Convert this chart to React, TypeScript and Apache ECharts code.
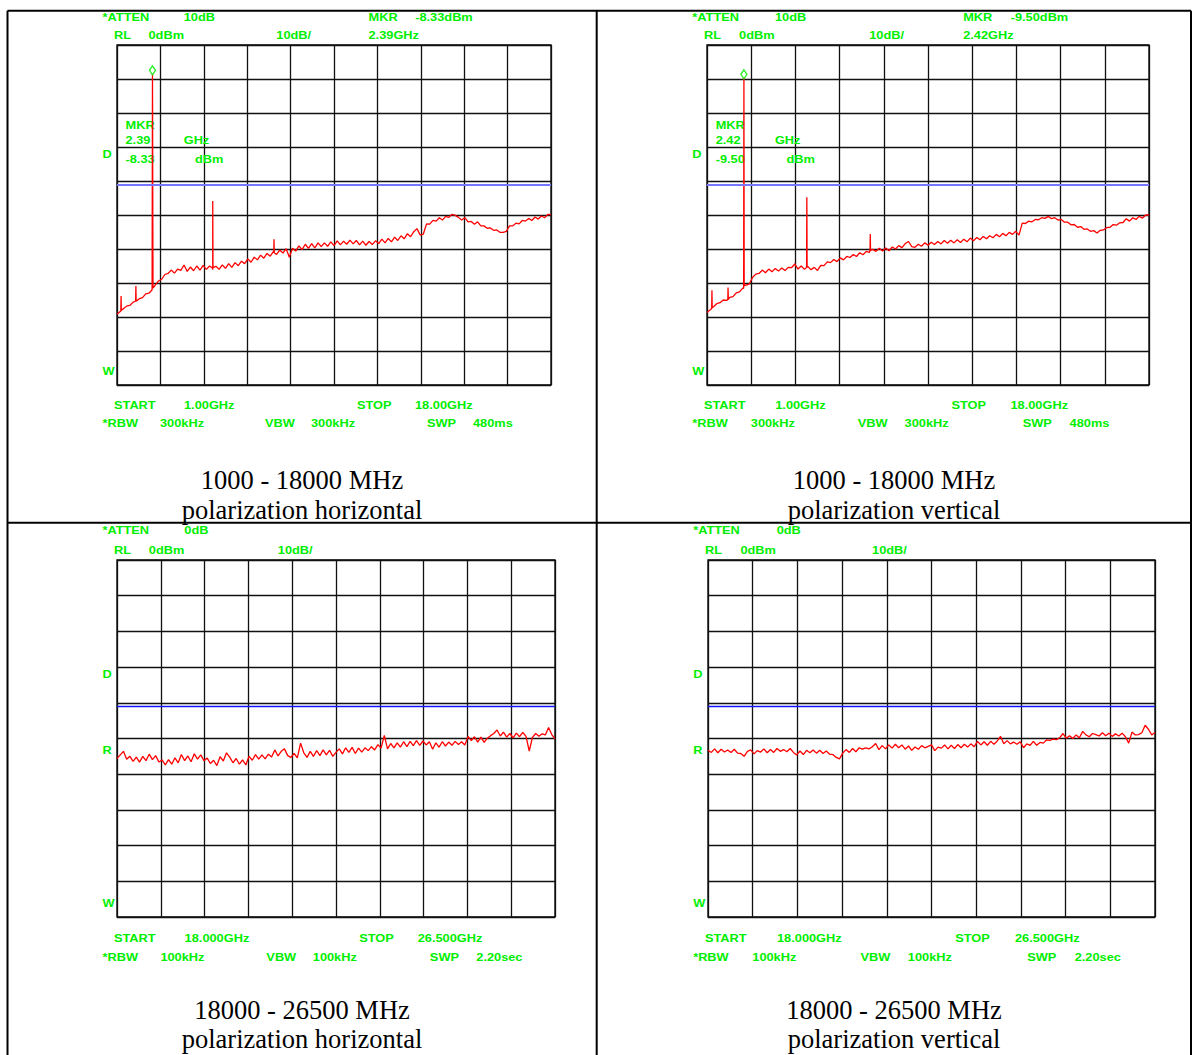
import { useEffect, useRef } from "react";
import * as echarts from "echarts";

// ---- Sweep settings -------------------------------------------------------
const LOW_BAND_START_GHZ = 1.0;
const LOW_BAND_STOP_GHZ = 18.0;
const HIGH_BAND_START_GHZ = 18.0;
const HIGH_BAND_STOP_GHZ = 26.5;
const REF_LEVEL_DBM = 0;
const DB_PER_DIV = 10;
const DIVISIONS = 10;
const DISPLAY_LINE_DBM = -41;

// Marker readouts (frequency GHz, level dBm)
const MARKER_HORIZONTAL = [2.39, -8.33];
const MARKER_VERTICAL = [2.42, -9.5];

// ---- Traces (dBm), one row per GHz: 1.000, 1.125, ... 1.875 ---------------
const LOW_HORIZONTAL = [
  -79.2, -78.4, -77.6, -76.8, -76.6, -75.7, -75.4, -74.6,
  -74.3, -73.2, -73.0, -72.0, -70.6, -69.4, -68.9, -67.5,
  -67.2, -66.2, -67.1, -65.9, -66.3, -64.7, -66.6, -65.3,
  -66.4, -65.0, -66.2, -64.8, -66.0, -65.0, -66.1, -65.1,
  -66.0, -64.7, -65.7, -64.3, -65.4, -64.0, -64.9, -63.6,
  -64.3, -62.9, -63.9, -62.4, -63.2, -61.8, -62.7, -61.3,
  -62.1, -60.8, -61.6, -60.3, -61.2, -59.9, -62.4, -59.8,
  -60.6, -59.1, -60.2, -58.6, -59.8, -58.4, -59.7, -58.2,
  -59.3, -58.2, -59.2, -57.9, -59.0, -57.6, -58.8, -57.7,
  -58.6, -57.4, -58.5, -57.5, -58.8, -57.7, -58.9, -57.8,
  -58.7, -57.6, -58.4, -57.1, -58.2, -56.9, -57.9, -56.5,
  -57.5, -56.1, -57.0, -55.5, -56.4, -54.9, -54.0, -55.9,
  -55.6, -52.6, -52.7, -51.6, -51.8, -50.8, -51.5, -50.4,
  -50.7, -49.8, -50.1, -50.7, -51.5, -50.8, -52.0, -51.9,
  -52.7, -52.0, -53.2, -53.2, -53.9, -53.8, -54.5, -54.4,
  -55.1, -55.1, -54.8, -53.2, -53.2, -52.4, -52.6, -51.6,
  -51.8, -51.0, -51.6, -50.6, -51.2, -50.3, -50.8, -49.8,
  -49.9,
];

const LOW_VERTICAL = [
  -78.7, -77.9, -77.0, -76.1, -75.8, -75.0, -75.1, -74.2,
  -74.0, -72.9, -72.6, -71.5, -70.6, -70.3, -68.4, -67.4,
  -67.2, -66.2, -67.0, -65.9, -66.7, -65.7, -66.5, -65.6,
  -66.3, -65.4, -65.5, -64.4, -65.9, -65.0, -66.0, -65.1,
  -66.1, -65.4, -66.3, -64.8, -64.9, -63.8, -64.0, -63.1,
  -63.7, -62.6, -63.2, -62.2, -62.5, -61.6, -62.2, -61.1,
  -61.7, -60.7, -61.0, -60.1, -60.7, -59.8, -60.6, -59.7,
  -60.5, -59.4, -60.0, -59.0, -59.6, -58.4, -57.8, -59.3,
  -59.5, -58.6, -59.2, -58.2, -58.9, -58.0, -58.7, -57.8,
  -58.5, -57.5, -58.3, -57.4, -58.2, -57.3, -58.1, -57.1,
  -57.9, -56.8, -57.6, -56.6, -57.3, -56.3, -57.0, -56.1,
  -56.7, -55.7, -56.4, -55.4, -56.1, -55.1, -55.7, -54.8,
  -55.9, -52.4, -52.5, -51.8, -52.0, -51.3, -51.4, -50.8,
  -51.0, -50.4, -51.1, -50.8, -51.5, -51.3, -52.1, -52.1,
  -52.9, -52.8, -53.6, -53.4, -54.2, -54.1, -54.8, -54.6,
  -55.3, -54.5, -54.4, -53.7, -53.6, -52.8, -53.0, -52.3,
  -52.2, -51.1, -51.8, -50.8, -51.3, -50.4, -50.9, -50.0,
  -50.0,
];

// Narrow responses: [GHz, dBm] triplets (shoulder, peak, shoulder)
const LOW_HORIZONTAL_SPIKES = [
  [1.15, -78.3], [1.16, -73.8], [1.17, -78.0],
  [1.73, -75.3], [1.74, -70.9], [1.75, -75.2],
  [2.38, -72.0], [2.39, -8.33], [2.41, -71.5],
  [4.74, -65.6], [4.75, -45.9], [4.76, -65.5],
  [7.14, -61.1], [7.15, -57.1], [7.16, -61.1],
];

const LOW_VERTICAL_SPIKES = [
  [1.18, -77.5], [1.19, -72.1], [1.2, -77.3],
  [1.8, -74.9], [1.81, -71.3], [1.82, -74.8],
  [2.41, -71.6], [2.42, -9.5], [2.43, -70.8],
  [4.83, -65.4], [4.84, -44.8], [4.85, -65.4],
  [7.27, -60.4], [7.28, -55.6], [7.29, -60.4],
];

// ---- Traces (dBm), one row per 0.5 GHz: 18.0000, 18.0625, ... ------------
const HIGH_HORIZONTAL = [
  -55.6, -54.6, -53.6, -55.8, -55.0, -56.4, -55.2, -56.6,
  -55.0, -56.2, -54.4, -55.9, -54.8, -56.6, -56.0, -57.4,
  -55.9, -57.2, -55.4, -56.8, -54.5, -56.2, -54.9, -56.5,
  -54.3, -55.8, -54.6, -56.2, -55.5, -57.0, -56.1, -57.6,
  -55.1, -56.3, -54.0, -55.2, -56.8, -55.6, -57.2, -56.0,
  -57.4, -55.0, -56.1, -54.5, -55.8, -54.6, -55.7, -54.4,
  -55.2, -53.2, -54.9, -53.6, -52.9, -54.8, -55.3, -54.2,
  -55.4, -51.3, -54.0, -55.3, -53.6, -55.0, -53.4, -54.8,
  -53.2, -54.6, -53.3, -55.0, -53.9, -52.9, -54.3, -52.6,
  -53.9, -52.5, -54.2, -52.7, -53.8, -52.6, -53.4, -52.3,
  -53.2, -51.7, -52.7, -49.1, -52.9, -51.4, -52.6, -51.2,
  -52.4, -50.9, -52.3, -50.8, -52.0, -50.6, -51.9, -50.7,
  -51.8, -50.9, -53.0, -51.2, -52.4, -50.9, -52.1, -51.0,
  -51.9, -50.8, -51.7, -50.9, -51.8, -49.4, -50.6, -49.5,
  -51.0, -49.6, -51.1, -49.9, -49.2, -48.6, -47.6, -49.3,
  -48.2, -49.6, -48.6, -49.8, -48.5, -49.5, -48.3, -49.4,
  -53.5, -49.7, -48.6, -49.4, -48.7, -49.0, -46.9, -48.9,
  -50.1,
];

const HIGH_VERTICAL = [
  -53.3, -53.9, -52.9, -54.0, -53.0, -53.8, -53.2, -53.9,
  -53.0, -54.1, -54.2, -55.0, -53.6, -53.2, -54.3, -53.4,
  -53.8, -52.9, -54.0, -53.1, -53.9, -52.8, -53.6, -53.1,
  -53.7, -52.8, -53.9, -54.6, -53.5, -54.5, -53.3, -54.0,
  -53.2, -54.1, -53.3, -54.2, -53.5, -54.4, -54.5, -55.3,
  -55.7, -54.1, -53.1, -53.9, -52.8, -53.7, -52.6, -53.0,
  -52.6, -52.9, -52.3, -51.4, -53.1, -52.0, -52.9, -51.8,
  -52.7, -51.6, -52.6, -51.8, -53.0, -52.1, -53.3, -52.4,
  -53.0, -52.0, -52.6, -52.2, -51.8, -53.4, -52.4, -52.7,
  -51.8, -52.9, -51.9, -52.8, -51.7, -52.6, -51.6, -52.4,
  -51.5, -52.3, -50.8, -51.8, -50.9, -51.9, -50.8, -51.6,
  -50.7, -49.4, -51.5, -50.6, -51.5, -51.0, -51.6, -50.9,
  -52.6, -51.5, -51.9, -50.8, -51.9, -51.1, -51.3, -50.4,
  -50.5, -50.2, -50.3, -49.8, -48.6, -49.9, -49.2, -50.0,
  -49.0, -49.8, -48.0, -49.0, -49.5, -48.6, -48.9, -49.3,
  -48.4, -49.2, -48.5, -49.4, -48.7, -49.3, -48.5, -49.5,
  -51.3, -48.2, -49.0, -48.9, -48.4, -46.3, -47.4, -49.0,
  -48.3,
];

// ---- Styling -------------------------------------------------------------
const GREEN = "#00ee00";
const RED = "#ff0000";
const GRID_INK = "#111111";
const LABEL_FONT = '"Liberation Sans", Arial, Helvetica, sans-serif';
const CAPTION_FONT = '"Liberation Serif", "Times New Roman", Times, serif';

// Nominal panel geometry used for annotation placement
const BASE_W = 434;
const BASE_H = 340;

type Panel = {
  left: number;
  top: number;
  width: number;
  height: number;
  start: number;
  stop: number;
  digits: number;
  trace: number[];
  spikes: number[][];
  marker: number[] | null;
  atten: string;
  rbw: string;
  vbw: string;
  swp: string;
  polarization: string;
  cellCenter: number;
  captionY: number;
  captionGap: number;
  lineColor: string;
  lineWidth: number;
  showR: boolean;
};

const PANELS: Panel[] = [
  {
    left: 117, top: 45, width: 434, height: 340,
    start: LOW_BAND_START_GHZ, stop: LOW_BAND_STOP_GHZ, digits: 2,
    trace: LOW_HORIZONTAL, spikes: LOW_HORIZONTAL_SPIKES, marker: MARKER_HORIZONTAL,
    atten: "10dB", rbw: "300kHz", vbw: "300kHz", swp: "480ms",
    polarization: "polarization horizontal", cellCenter: 302, captionY: 480, captionGap: 30,
    lineColor: "#7676ff", lineWidth: 2, showR: false,
  },
  {
    left: 707, top: 45, width: 442, height: 340,
    start: LOW_BAND_START_GHZ, stop: LOW_BAND_STOP_GHZ, digits: 2,
    trace: LOW_VERTICAL, spikes: LOW_VERTICAL_SPIKES, marker: MARKER_VERTICAL,
    atten: "10dB", rbw: "300kHz", vbw: "300kHz", swp: "480ms",
    polarization: "polarization vertical", cellCenter: 894, captionY: 480, captionGap: 30,
    lineColor: "#7676ff", lineWidth: 2, showR: false,
  },
  {
    left: 117, top: 560, width: 438, height: 357,
    start: HIGH_BAND_START_GHZ, stop: HIGH_BAND_STOP_GHZ, digits: 3,
    trace: HIGH_HORIZONTAL, spikes: [], marker: null,
    atten: "0dB", rbw: "100kHz", vbw: "100kHz", swp: "2.20sec",
    polarization: "polarization horizontal", cellCenter: 302, captionY: 1009.5, captionGap: 29.5,
    lineColor: "#1414ff", lineWidth: 1.4, showR: true,
  },
  {
    left: 708, top: 560, width: 447, height: 357,
    start: HIGH_BAND_START_GHZ, stop: HIGH_BAND_STOP_GHZ, digits: 3,
    trace: HIGH_VERTICAL, spikes: [], marker: null,
    atten: "0dB", rbw: "100kHz", vbw: "100kHz", swp: "2.20sec",
    polarization: "polarization vertical", cellCenter: 894, captionY: 1009.5, captionGap: 29.5,
    lineColor: "#1414ff", lineWidth: 1.4, showR: true,
  },
];

// Sweep bins are evenly spaced between start and stop; narrow responses are merged in.
function sweepPoints(levels: number[], start: number, stop: number, spikes: number[][]) {
  const n = levels.length;
  const pts = levels.map((v, i) => [start + (i * (stop - start)) / (n - 1), v]);
  return pts.concat(spikes.map((s) => [s[0], s[1]])).sort((a, b) => a[0] - b[0]);
}

function greenText(text: string, x: number, y: number) {
  return {
    type: "text",
    x,
    y,
    scaleX: 1.28,
    z: 1,
    silent: true,
    style: {
      text,
      fill: GREEN,
      fontSize: 10,
      fontWeight: "bold",
      fontFamily: LABEL_FONT,
      align: "left",
      verticalAlign: "middle",
    },
  };
}

function panelGraphics(p: Panel) {
  const sx = p.width / BASE_W;
  const sy = p.height / BASE_H;
  const bottom = p.top + p.height;
  const atTop = (t: string, dx: number, dy: number) => greenText(t, p.left + dx * sx, p.top + dy * sy);
  const atBottom = (t: string, dx: number, dy: number) => greenText(t, p.left + dx * sx, bottom + dy * sy);
  const f = (v: number) => v.toFixed(p.digits);

  const items: any[] = [
    atTop("*ATTEN", -14.4, -27.7),
    atTop(p.atten, 66.7, -27.7),
    atTop("RL", -3, -9),
    atTop(`${REF_LEVEL_DBM}dBm`, 31.5, -9),
    atTop(`${DB_PER_DIV}dB/`, 159.3, -9),
    atTop("D", -14.4, 109.3),
    atBottom("W", -14.4, -13.3),
    atBottom("START", -3, 20.3),
    atBottom(`${f(p.start)}GHz`, 67, 20.3),
    atBottom("STOP", 240, 20.3),
    atBottom(`${f(p.stop)}GHz`, 298, 20.3),
    atBottom("*RBW", -14.4, 38.7),
    atBottom(p.rbw, 43, 38.7),
    atBottom("VBW", 148, 38.7),
    atBottom(p.vbw, 194, 38.7),
    atBottom("SWP", 310, 38.7),
    atBottom(p.swp, 356, 38.7),
  ];
  if (p.showR) items.push(atTop("R", -14.4, 181));
  if (p.marker) {
    const [mf, ml] = p.marker;
    items.push(
      atTop("MKR", 251.5, -27.7),
      atTop(`${ml.toFixed(2)}dBm`, 298.2, -27.7),
      atTop(`${mf.toFixed(2)}GHz`, 251.5, -9),
      atTop("MKR", 8.5, 80.3),
      atTop(mf.toFixed(2), 8.5, 95.7),
      atTop("GHz", 66.7, 95.7),
      atTop(ml.toFixed(2), 8.5, 114.7),
      atTop("dBm", 78, 114.7)
    );
  }
  const caption = (text: string, y: number) => ({
    type: "text",
    x: p.cellCenter,
    y,
    z: 5,
    silent: true,
    style: {
      text,
      fill: "#000",
      fontSize: 26.5,
      fontFamily: CAPTION_FONT,
      align: "center",
      verticalAlign: "middle",
    },
  });
  items.push(
    caption(`${Math.round(p.start * 1000)} - ${Math.round(p.stop * 1000)} MHz`, p.captionY),
    caption(p.polarization, p.captionY + p.captionGap)
  );
  return items;
}

function tableGraphics() {
  const ink = { stroke: "#000", lineWidth: 2 };
  const L = 7.5, R = 1191, T = 10.7, MIDX = 596.7, MIDY = 522.7, B = 1100;
  return [
    { type: "line", z: 6, silent: true, shape: { x1: L, y1: T, x2: R, y2: T }, style: ink },
    { type: "line", z: 6, silent: true, shape: { x1: L, y1: T, x2: L, y2: B }, style: ink },
    { type: "line", z: 6, silent: true, shape: { x1: R, y1: T, x2: R, y2: B }, style: ink },
    { type: "line", z: 6, silent: true, shape: { x1: MIDX, y1: T, x2: MIDX, y2: B }, style: ink },
    { type: "line", z: 6, silent: true, shape: { x1: L, y1: MIDY, x2: R, y2: MIDY }, style: ink },
  ];
}

function buildOption() {
  const bottomDbm = REF_LEVEL_DBM - DIVISIONS * DB_PER_DIV;
  const gridLine = { show: true, lineStyle: { color: GRID_INK, width: 1.3 } };
  const hidden = { show: false };

  const series: any[] = [];
  PANELS.forEach((p, i) => {
    series.push({
      type: "line",
      xAxisIndex: 2 * i,
      yAxisIndex: i,
      data: sweepPoints(p.trace, p.start, p.stop, p.spikes),
      symbol: "none",
      showSymbol: false,
      silent: true,
      z: 3,
      lineStyle: { color: RED, width: 1.3 },
      itemStyle: { color: RED },
      markLine: {
        silent: true,
        symbol: ["none", "none"],
        label: { show: false },
        lineStyle: { color: p.lineColor, width: p.lineWidth, type: "solid" },
        data: [{ yAxis: DISPLAY_LINE_DBM }],
      },
    });
    if (p.marker) {
      series.push({
        type: "scatter",
        xAxisIndex: 2 * i,
        yAxisIndex: i,
        data: [p.marker],
        symbol: "diamond",
        symbolSize: [6, 9],
        symbolOffset: [0, -3],
        silent: true,
        z: 4,
        itemStyle: { color: "#ffffff", borderColor: GREEN, borderWidth: 1.5 },
      });
    }
  });

  return {
    animation: false,
    backgroundColor: "#ffffff",
    grid: PANELS.map((p) => ({
      left: p.left,
      top: p.top,
      width: p.width,
      height: p.height,
      show: true,
      borderColor: "#000",
      borderWidth: 1.3,
      backgroundColor: "transparent",
    })),
    xAxis: PANELS.flatMap((p, i) => [
      { type: "value", gridIndex: i, min: p.start, max: p.stop, show: false },
      {
        type: "value",
        gridIndex: i,
        position: "top",
        min: 0,
        max: DIVISIONS,
        interval: 1,
        axisLine: hidden,
        axisTick: hidden,
        axisLabel: hidden,
        splitLine: gridLine,
      },
    ]),
    yAxis: PANELS.map((_, i) => ({
      type: "value",
      gridIndex: i,
      min: bottomDbm,
      max: REF_LEVEL_DBM,
      interval: DB_PER_DIV,
      axisLine: hidden,
      axisTick: hidden,
      axisLabel: hidden,
      splitLine: gridLine,
    })),
    series,
    graphic: { elements: [...tableGraphics(), ...PANELS.flatMap(panelGraphics)] },
  };
}

export default function App() {
  const ref = useRef<HTMLDivElement>(null);

  useEffect(() => {
    document.body.style.margin = "0";
    if (!ref.current) return;
    const chart = echarts.init(ref.current, undefined, { renderer: "svg" });
    chart.setOption(buildOption() as any);
    return () => chart.dispose();
  }, []);

  return <div ref={ref} style={{ width: 1195, height: 1055 }} />;
}
